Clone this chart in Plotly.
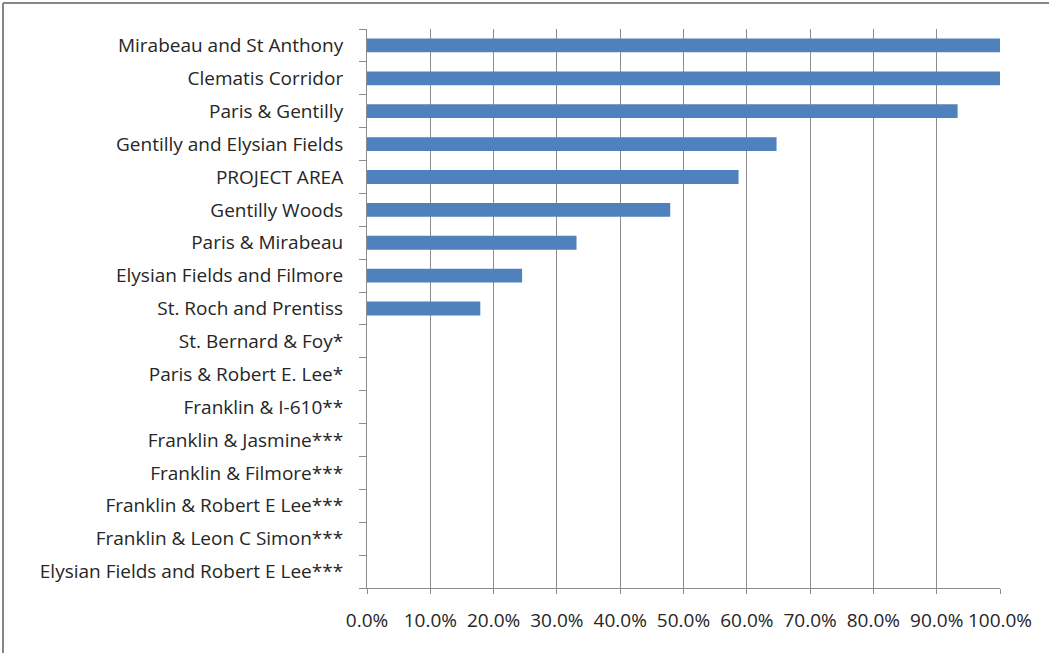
import plotly.graph_objects as go

categories = [
    "Mirabeau and St Anthony",
    "Clematis Corridor",
    "Paris & Gentilly",
    "Gentilly and Elysian Fields",
    "PROJECT AREA",
    "Gentilly Woods",
    "Paris & Mirabeau",
    "Elysian Fields and Filmore",
    "St. Roch and Prentiss",
    "St. Bernard & Foy*",
    "Paris & Robert E. Lee*",
    "Franklin & I-610**",
    "Franklin & Jasmine***",
    "Franklin & Filmore***",
    "Franklin & Robert E Lee***",
    "Franklin & Leon C Simon***",
    "Elysian Fields and Robert E Lee***",
]
values = [1.0, 1.0, 0.933, 0.647, 0.587, 0.479, 0.331, 0.245, 0.179,
          0, 0, 0, 0, 0, 0, 0, 0]

W, H = 1049, 653
L, R, T, B = 367, 1000, 29, 588

pos = list(range(len(categories)))

fig = go.Figure(go.Bar(
    x=values, y=pos, orientation="h",
    marker=dict(color="#4F81BD", line=dict(width=0)),
    width=0.42,
))

txt = "#262626"
font = dict(family="Open Sans, Noto Sans, sans-serif", size=19, color=txt)

fig.update_layout(
    width=W, height=H,
    margin=dict(l=L, r=W - R, t=T, b=H - B),
    paper_bgcolor="white", plot_bgcolor="white",
    showlegend=False,
    font=font,
)
fig.update_xaxes(
    range=[0, 1], tickformat=".1%", dtick=0.1, tick0=0,
    showgrid=True, gridcolor="#8C8C8C", gridwidth=1,
    showline=True, linecolor="#8C8C8C", linewidth=1,
    ticks="outside", ticklen=5, tickcolor="#8C8C8C",
    zeroline=False, fixedrange=True,
    tickfont=dict(size=19, color=txt),
    ticklabelstandoff=10,
)
fig.update_yaxes(
    type="linear", range=[len(categories) - 0.5, -0.5],
    tickmode="array", tickvals=pos, ticktext=categories,
    ticks="", showgrid=False, zeroline=False,
    showline=True, linecolor="#8C8C8C", linewidth=1,
    tickfont=dict(size=19, color=txt),
    ticklabelstandoff=19,
    minor=dict(tick0=0.5, dtick=1, ticks="outside", ticklen=7,
               tickcolor="#8C8C8C", showgrid=False),
)

pw, ph = R - L, B - T
def px(x):
    return (x - L) / pw
def py(y):
    return (B - y) / ph

fig.add_shape(type="line", xref="paper", yref="paper",
              x0=px(3), x1=px(3), y0=py(3), y1=py(H + 10),
              line=dict(color="#868686", width=2))
fig.add_shape(type="line", xref="paper", yref="paper",
              x0=px(3), x1=px(W + 10), y0=py(3), y1=py(3),
              line=dict(color="#868686", width=2))

fig.write_html("out.html")
